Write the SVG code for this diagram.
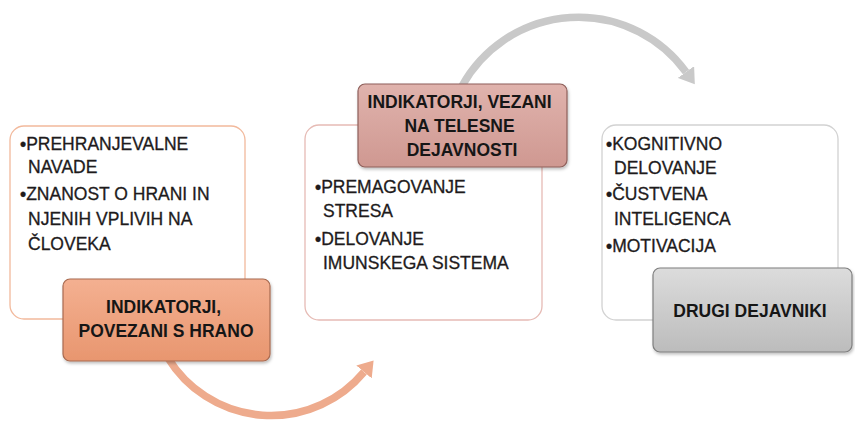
<svg xmlns="http://www.w3.org/2000/svg" width="855" height="421" viewBox="0 0 855 421">
  <style>
    .card { fill: #ffffff; stroke-width: 1.3; }
    .txt { font-family: "Liberation Sans", Arial, sans-serif; font-size: 17.5px; fill: #1e1b1c; stroke: #1e1b1c; stroke-width: 0.3; }
    .dot { font-weight: bold; }
    .title { font-family: "Liberation Sans", Arial, sans-serif; font-size: 17.5px; font-weight: bold; fill: #161616; text-anchor: middle; }
    .arc { fill: none; stroke-width: 7.5; stroke-linecap: butt; }
  </style>
  <defs>
    <linearGradient id="gOrange" x1="0" y1="0" x2="0" y2="1">
      <stop offset="0" stop-color="#f4b091"/>
      <stop offset="1" stop-color="#e8966f"/>
    </linearGradient>
    <linearGradient id="gPink" x1="0" y1="0" x2="0" y2="1">
      <stop offset="0" stop-color="#e0b3ad"/>
      <stop offset="1" stop-color="#cf9891"/>
    </linearGradient>
    <linearGradient id="gGrey" x1="0" y1="0" x2="0" y2="1">
      <stop offset="0" stop-color="#dcdcdc"/>
      <stop offset="1" stop-color="#bcbcbc"/>
    </linearGradient>
    <marker id="headOrange" markerUnits="userSpaceOnUse" markerWidth="16" markerHeight="20" refX="0" refY="10" orient="auto">
      <path d="M0,0 L15,10 L0,20 Z" fill="#eeab8d"/>
    </marker>
    <marker id="headGrey" markerUnits="userSpaceOnUse" markerWidth="16" markerHeight="20" refX="0" refY="10" orient="auto">
      <path d="M0,0 L15,10 L0,20 Z" fill="#c9c9c9"/>
    </marker>
    <filter id="shadow" x="-10%" y="-10%" width="125%" height="130%">
      <feDropShadow dx="1" dy="2" stdDeviation="1.5" flood-color="#000" flood-opacity="0.25"/>
    </filter>
  </defs>

  <!-- connectors: curved arrows between the stages -->
  <g id="connectors">
    <path class="arc" d="M168,358 A121,121 0 0,0 364,372" stroke="#eeab8d" marker-end="url(#headOrange)"/>
    <path class="arc" d="M462,86 A133,133 0 0,1 686,72" stroke="#c9c9c9" marker-end="url(#headGrey)"/>
  </g>

  <!-- stage 1: food -->
  <g id="node-food">
    <rect class="card" x="10" y="126" width="235" height="193" rx="14" stroke="#f2b99c"/>
    <text class="txt">
      <tspan x="20" y="150"><tspan class="dot">•</tspan>PREHRANJEVALNE</tspan>
      <tspan x="28" y="173">NAVADE</tspan>
      <tspan x="20" y="200"><tspan class="dot">•</tspan>ZNANOST O HRANI IN</tspan>
      <tspan x="28" y="225">NJENIH VPLIVIH NA</tspan>
      <tspan x="28" y="250">ČLOVEKA</tspan>
    </text>
    <rect x="63" y="279" width="207" height="82" rx="7" fill="url(#gOrange)" stroke="#a86a50" stroke-width="1.2" filter="url(#shadow)"/>
    <text class="title">
      <tspan x="166" y="313">INDIKATORJI,</tspan>
      <tspan x="166" y="337">POVEZANI S HRANO</tspan>
    </text>
  </g>

  <!-- stage 2: physical activity -->
  <g id="node-activity">
    <rect class="card" x="305" y="125" width="237" height="195" rx="14" stroke="#e6bbb5"/>
    <text class="txt">
      <tspan x="315" y="193"><tspan class="dot">•</tspan>PREMAGOVANJE</tspan>
      <tspan x="323" y="217">STRESA</tspan>
      <tspan x="315" y="245"><tspan class="dot">•</tspan>DELOVANJE</tspan>
      <tspan x="323" y="269">IMUNSKEGA SISTEMA</tspan>
    </text>
    <rect x="358" y="84" width="209" height="83" rx="7" fill="url(#gPink)" stroke="#8e5f5a" stroke-width="1.2" filter="url(#shadow)"/>
    <text class="title">
      <tspan x="462" y="108">INDIKATORJI, VEZANI</tspan>
      <tspan x="462" y="132">NA TELESNE</tspan>
      <tspan x="462" y="156">DEJAVNOSTI</tspan>
    </text>
  </g>

  <!-- stage 3: other factors -->
  <g id="node-other">
    <rect class="card" x="602" y="125" width="236" height="195" rx="14" stroke="#d2d2d2"/>
    <text class="txt">
      <tspan x="606" y="150"><tspan class="dot">•</tspan>KOGNITIVNO</tspan>
      <tspan x="614" y="174">DELOVANJE</tspan>
      <tspan x="606" y="200"><tspan class="dot">•</tspan>ČUSTVENA</tspan>
      <tspan x="614" y="225">INTELIGENCA</tspan>
      <tspan x="606" y="252"><tspan class="dot">•</tspan>MOTIVACIJA</tspan>
    </text>
    <rect x="653" y="268" width="199" height="84" rx="7" fill="url(#gGrey)" stroke="#7f7f7f" stroke-width="1.2" filter="url(#shadow)"/>
    <text class="title" x="750" y="317">DRUGI DEJAVNIKI</text>
  </g>
</svg>
